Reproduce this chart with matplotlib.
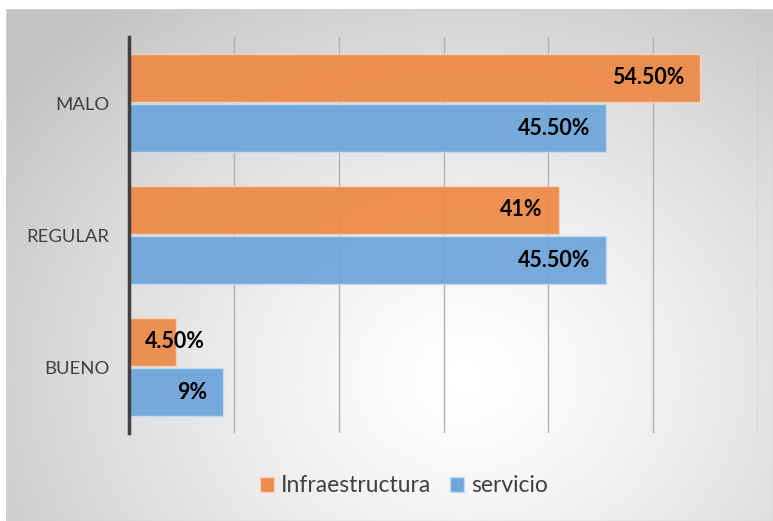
import matplotlib
matplotlib.use("Agg")
import matplotlib.pyplot as plt
import numpy as np
from matplotlib.patches import Rectangle

plt.rcParams["font.family"] = ["Lato", "DejaVu Sans"]

categorias = ["BUENO", "REGULAR", "MALO"]
infraestructura = [0.045, 0.41, 0.545]
servicio = [0.09, 0.455, 0.455]
etq_infra = ["4.50%", "41%", "54.50%"]
etq_serv = ["9%", "45.50%", "45.50%"]

C_OR = "#ED8B4A"
C_AZ = "#6FA6DA"

W, H = 773, 521
fig = plt.figure(figsize=(W / 100, H / 100), dpi=100, facecolor="white")

# fondo con degradado radial
bg = fig.add_axes([6 / W, 0, 1 - 6 / W, 1 - 9 / H])
yy, xx = np.mgrid[0:1:300j, 0:1:400j]
r = np.sqrt(((xx - 0.6) / 0.75) ** 2 + ((yy - 0.72) / 0.95) ** 2)
val = 1.0 - 0.24 * np.clip(r, 0, 1) ** 1.3
bg.imshow(val, cmap="gray", vmin=0, vmax=1, extent=[0, 1, 1, 0], aspect="auto", interpolation="bicubic")
bg.set_xlim(0, 1); bg.set_ylim(1, 0)
bg.axis("off")
bg.add_patch(Rectangle((0, 0), 1, 1, fill=False, ec="#d0d0d0", lw=1, transform=bg.transAxes))

ax = fig.add_axes([129 / W, (H - 433) / H, (758 - 129) / W, (433 - 37) / H])
ax.patch.set_alpha(0)

y = np.arange(len(categorias))
h = 0.364
off = 0.19
ax.barh(y + off, infraestructura, height=h, color=C_OR, alpha=0.95, ec="#f6d2b8", lw=1, zorder=3)
ax.barh(y - off, servicio, height=h, color=C_AZ, alpha=0.95, ec="#c4dcf2", lw=1, zorder=3)

pad = 0.0153  # ~16 px

def etiqueta(v, yy, t):
    if v < 0.08:
        ax.text(pad, yy, t, ha="left", va="center", fontsize=15.5, fontweight="bold", color="black", zorder=4)
    else:
        ax.text(v - pad, yy, t, ha="right", va="center", fontsize=15.5, fontweight="bold", color="black", zorder=4)

for yi, v, t in zip(y, infraestructura, etq_infra):
    etiqueta(v, yi + off, t)
for yi, v, t in zip(y, servicio, etq_serv):
    etiqueta(v, yi - off, t)

ax.set_xlim(0, 0.6)
ax.set_ylim(-0.5, 2.5)
ax.set_xticks(np.arange(0.1, 0.61, 0.1))
ax.set_xticklabels([])
ax.tick_params(axis="x", length=0)
ax.grid(axis="x", color="#b0b0b0", lw=1, zorder=1)
ax.set_yticks(y)
ax.set_yticklabels(categorias, fontsize=13.3, color="#404040")
ax.tick_params(axis="y", length=0, pad=14)
for s in ("top", "right", "bottom"):
    ax.spines[s].set_visible(False)
ax.spines["left"].set_color("#404040")
ax.spines["left"].set_linewidth(2.5)
ax.spines["left"].set_zorder(5)

hand = [Rectangle((0, 0), 1, 1, fc=C_OR, ec="#f6d2b8"), Rectangle((0, 0), 1, 1, fc=C_AZ, ec="#c4dcf2")]
leg = fig.legend(hand, ["Infraestructura", "servicio"], loc="center", bbox_to_anchor=(404 / W, 1 - 486 / H),
                 ncol=2, frameon=False, fontsize=16.5, handlelength=0.6, handleheight=0.6,
                 handletextpad=0.3, columnspacing=0.85)
for t in leg.get_texts():
    t.set_color("#404040")

fig.savefig("out.png", dpi=100, facecolor="white")
